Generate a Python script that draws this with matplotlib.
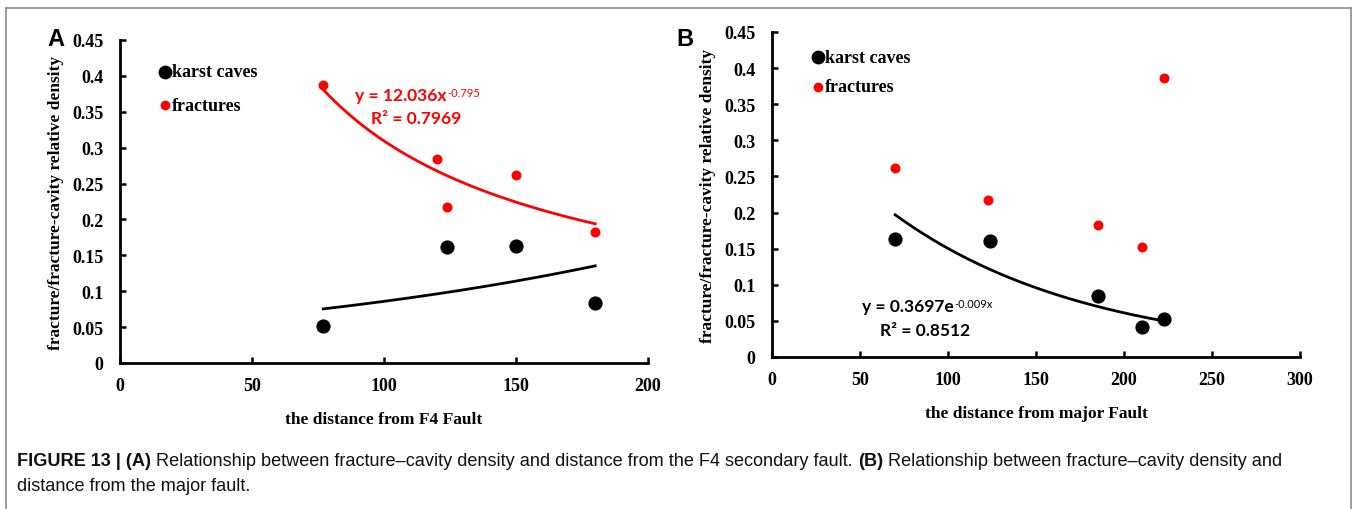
import numpy as np
import matplotlib
matplotlib.use('Agg')
import matplotlib.pyplot as plt
from matplotlib.font_manager import fontManager

# data
# panel A - distance from F4 fault
a_cave_x = [77, 124, 150, 180]
a_cave_y = [0.052, 0.161, 0.163, 0.084]
a_frac_x = [77, 120, 124, 150, 180]
a_frac_y = [0.387, 0.284, 0.217, 0.262, 0.183]
a_fit_coef, a_fit_pow = 12.036, -0.795

# panel B - distance from major fault
b_cave_x = [70, 124, 185, 210, 223]
b_cave_y = [0.163, 0.160, 0.084, 0.042, 0.052]
b_frac_x = [70, 123, 185, 210, 223]
b_frac_y = [0.262, 0.217, 0.183, 0.152, 0.387]
b_fit_coef, b_fit_exp = 0.3697, -0.009

yticks = [0, 0.05, 0.1, 0.15, 0.2, 0.25, 0.3, 0.35, 0.4, 0.45]
ytick_labels = ['0', '0.05', '0.1', '0.15', '0.2', '0.25', '0.3', '0.35', '0.4', '0.45']

names = {f.name for f in fontManager.ttflist}
serif = 'Liberation Serif'
eqfont = 'Lato' if 'Lato' in names else 'DejaVu Sans'
capfont = ['Liberation Sans Narrow', 'Liberation Sans'] if 'Liberation Sans Narrow' in names else ['Liberation Sans']

W, H = 1357, 510
fig = plt.figure(figsize=(W / 100, H / 100), dpi=100)


def px_axes(l, r, b, t):
    return fig.add_axes([l / W, 1 - b / H, (r - l) / W, (b - t) / H])


def style_axes(ax, xmax, xstep, xlabel):
    ax.set_xlim(0, xmax)
    ax.set_ylim(0, 0.45)
    ax.set_xticks(np.arange(0, xmax + 1, xstep))
    ax.set_xticklabels([str(v) for v in np.arange(0, xmax + 1, xstep)])
    ax.set_yticks(yticks)
    ax.set_yticklabels(ytick_labels)
    for s in ['top', 'right']:
        ax.spines[s].set_visible(False)
    for s in ['left', 'bottom']:
        ax.spines[s].set_linewidth(2.0)
    ax.tick_params(direction='in', length=4, width=1.8)
    ax.tick_params(axis='y', pad=12)
    ax.tick_params(axis='x', pad=10)
    for lab in ax.get_xticklabels() + ax.get_yticklabels():
        lab.set_fontfamily(serif)
        lab.set_fontweight('bold')
        lab.set_fontsize(13)
    ax.set_xlabel(xlabel, fontfamily=serif, fontweight='bold', fontsize=12.5, labelpad=12)
    ax.set_ylabel('fracture/fracture-cavity relative density', fontfamily=serif,
                  fontweight='bold', fontsize=12.5, labelpad=6)


def legend(ax, x, y1, y2):
    dx = 2.7 * ax.get_xlim()[1] / 200
    ax.scatter([x], [y1], s=80, color='black', zorder=3, clip_on=False)
    ax.scatter([x], [y2], s=36, color='red', zorder=3, clip_on=False)
    ax.text(x + dx, y1, 'karst caves', fontfamily=serif,
            fontweight='bold', fontsize=13, va='center')
    ax.text(x + dx, y2, 'fractures', fontfamily=serif,
            fontweight='bold', fontsize=13, va='center')


def equation(ax, x, y, base, sup, color):
    t = ax.text(x, y, base, fontfamily=eqfont, fontweight='bold', fontsize=12.5,
                color=color, ha='left', va='baseline')
    ax.annotate(sup, xy=(1, 1), xycoords=t, xytext=(0.5, 0), textcoords='offset points',
                fontfamily=eqfont, fontsize=8, color=color, va='top', ha='left')
    return t


# ---- panel A
axA = px_axes(120, 648, 364, 41)
style_axes(axA, 200, 50, 'the distance from F4 Fault')
axA.scatter(a_cave_x, a_cave_y, s=85, color='black', zorder=3)
axA.scatter(a_frac_x, a_frac_y, s=38, color='red', zorder=3)
xs = np.linspace(min(a_frac_x), max(a_frac_x), 200)
axA.plot(xs, a_fit_coef * xs ** a_fit_pow, color='red', lw=2.0)
# exponential trend line of karst caves (excel style, fitted on log values)
bA, lnaA = np.polyfit(a_cave_x, np.log(a_cave_y), 1)
xs = np.linspace(min(a_cave_x), max(a_cave_x), 200)
axA.plot(xs, np.exp(lnaA) * np.exp(bA * xs), color='black', lw=2.0)
legend(axA, 17, 0.406, 0.359)
equation(axA, 89, 0.366, 'y = 12.036x', '-0.795', 'red')
axA.text(112, 0.335, 'R² = 0.7969', fontfamily=eqfont, fontweight='bold', fontsize=12.5,
         color='red', ha='center', va='baseline')

# ---- panel B
axB = px_axes(772, 1300, 358, 33)
style_axes(axB, 300, 50, 'the distance from major Fault')
axB.scatter(b_cave_x, b_cave_y, s=85, color='black', zorder=3)
axB.scatter(b_frac_x, b_frac_y, s=38, color='red', zorder=3)
xs = np.linspace(min(b_cave_x), max(b_cave_x), 200)
axB.plot(xs, b_fit_coef * np.exp(b_fit_exp * xs), color='black', lw=2.0)
legend(axB, 26, 0.415, 0.374)
equation(axB, 51, 0.063, 'y = 0.3697e', '-0.009x', 'black')
axB.text(87, 0.031, 'R² = 0.8512', fontfamily=eqfont, fontweight='bold', fontsize=12.5,
         color='black', ha='center', va='baseline')

# panel letters
fig.text(47 / W, 1 - 40 / H, 'A', fontfamily='Liberation Sans', fontweight='bold',
         fontsize=17, va='center', ha='left')
fig.text(676 / W, 1 - 40 / H, 'B', fontfamily='Liberation Sans', fontweight='bold',
         fontsize=17, va='center', ha='left')

# frame around the figure
fig.add_artist(plt.Line2D([6 / W, 1351 / W], [1 - 9 / H, 1 - 9 / H], color='#8c8c8c', lw=1.2))
fig.add_artist(plt.Line2D([6 / W, 6 / W], [1 - 9 / H, 0], color='#8c8c8c', lw=1.2))
fig.add_artist(plt.Line2D([1351 / W, 1351 / W], [1 - 9 / H, 0], color='#8c8c8c', lw=1.2))

# caption
cap_kw = dict(fontfamily=capfont, fontsize=13.1, color='#111111', va='baseline')
parts = [('FIGURE 13 | (A)', 'bold'),
         (' Relationship between fracture\u2013cavity density and distance from the F4 secondary fault. ', 'normal'),
         ('(B)', 'bold'),
         (' Relationship between fracture\u2013cavity density and', 'normal')]
prev = fig.text(17 / W, 1 - 466 / H, parts[0][0], fontweight=parts[0][1], **cap_kw)
for txt, wt in parts[1:]:
    prev = plt.annotate(txt, xy=(1, 0), xycoords=prev, xytext=(0, 0),
                        textcoords='offset points', fontweight=wt,
                        annotation_clip=False, **cap_kw)
    prev.set_va('bottom')
fig.text(17 / W, 1 - 491 / H, 'distance from the major fault.', **cap_kw)

fig.savefig('out.png', dpi=100)
